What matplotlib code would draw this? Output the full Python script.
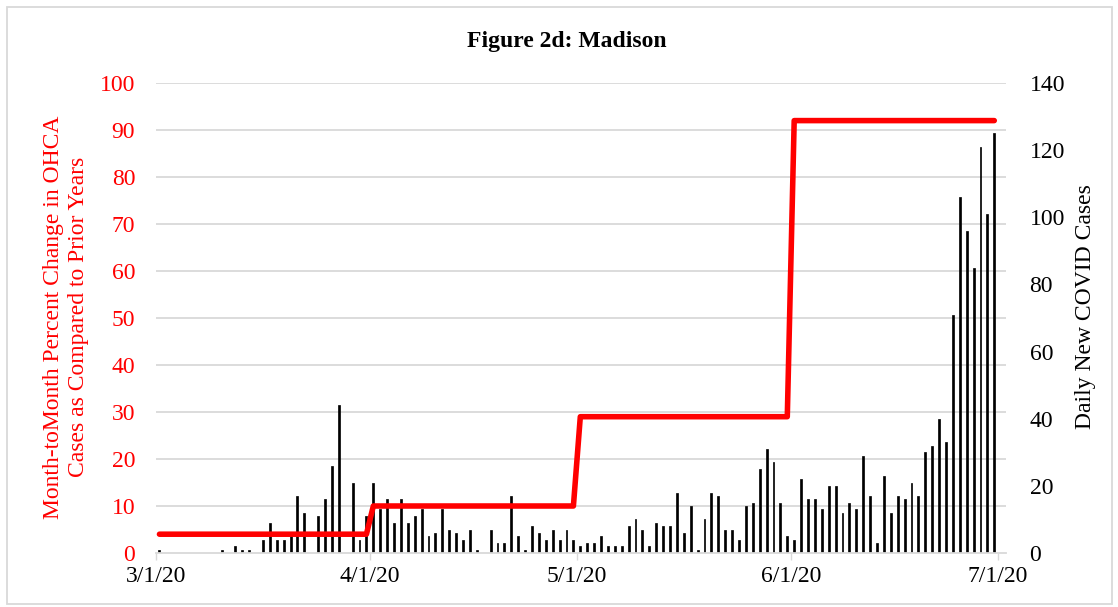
"""
Figure 2d: Madison - monthly OHCA percent change (red line, left axis)
against daily new COVID cases (black bars, right axis).
"""

import numpy as np
import pandas as pd
import matplotlib
matplotlib.use("Agg")
import matplotlib.pyplot as plt
import matplotlib.dates as mdates
from matplotlib.patches import Rectangle

plt.rcParams["font.family"] = ["Liberation Serif", "DejaVu Serif"]

# daily new COVID cases, 3/1/20 .. 6/30/20
cases_mar = [1, 0, 0, 0, 0, 0, 0, 0, 0, 1, 0, 2, 1, 1, 0, 4, 9, 4, 4, 5,
             17, 12, 0, 11, 16, 26, 44, 0, 21, 4, 11]
cases_apr = [21, 13, 16, 9, 16, 9, 11, 13, 5, 6, 13, 7, 6, 4, 7, 1, -1, 7, 3, 3,
             17, 5, 1, 8, 6, 4, 7, 4, 7, 4]
cases_may = [2, 3, 3, 5, 2, 2, 2, 8, 10, 7, 2, 9, 8, 8, 18, 6, 14, 1, 10, 18,
             17, 7, 7, 4, 14, 15, 25, 31, 27, 15, 5]
cases_jun = [4, 22, 16, 16, 13, 20, 20, 12, 15, 13, 29, 17, 3, 23, 12, 17, 16, 21, 17, 30,
             32, 40, 33, 71, 106, 96, 85, 121, 101, 125]

# month-to-month percent change in OHCA (one value per month)
ohca_pct = [4, 10, 29, 92]

x_ticks = ["2020-03-01", "2020-04-01", "2020-05-01", "2020-06-01", "2020-07-01"]
x_labels = ["3/1/20", "4/1/20", "5/1/20", "6/1/20", "7/1/20"]
left_ticks = [0, 10, 20, 30, 40, 50, 60, 70, 80, 90, 100]
right_ticks = [0, 20, 40, 60, 80, 100, 120, 140]

cases = cases_mar + cases_apr + cases_may + cases_jun
dates = pd.date_range("2020-03-01", periods=len(cases), freq="D")
month_len = [len(cases_mar), len(cases_apr), len(cases_may), len(cases_jun)]
ohca_daily = np.repeat(ohca_pct, month_len)

x = mdates.date2num(dates) + 0.5
tick_x = mdates.date2num(pd.to_datetime(x_ticks))

W, H = 1118, 607
FS = 17
fig = plt.figure(figsize=(W / 100, H / 100), dpi=100)
ax = fig.add_axes([156 / W, 1 - 553 / H, 850 / W, 470 / H])
ax2 = ax.twinx()

GRID = "#d9d9d9"

# bars (right scale)
ax.bar(x, cases, width=0.28, color="black", edgecolor="black", lw=0.5, zorder=2)
ax.set_ylim(right_ticks[0], right_ticks[-1])
ax.set_yticks(right_ticks)
ax.yaxis.tick_right()
ax.tick_params(axis="y", length=0, pad=17, labelsize=FS, colors="black")

# gridlines follow the left (red) scale
scale = right_ticks[-1] / left_ticks[-1]
for v in left_ticks[1:]:
    ax.axhline(v * scale, color=GRID, lw=1.3, zorder=0)

ax.set_xlim(tick_x[0], tick_x[-1] + 1.2)
ax.set_xticks(tick_x)
ax.set_xticklabels(x_labels)
ax.tick_params(axis="x", length=5, width=1, color=GRID, pad=4, labelsize=FS)

for s in ["top", "left", "right"]:
    ax.spines[s].set_visible(False)
ax.spines["bottom"].set_color(GRID)
ax.spines["bottom"].set_linewidth(1.3)

# red line (left scale)
ax2.plot(x, ohca_daily, color="#ff0000", lw=4,
         solid_capstyle="round", solid_joinstyle="round", zorder=3)
ax2.set_ylim(left_ticks[0], left_ticks[-1])
ax2.set_yticks(left_ticks)
ax2.yaxis.tick_left()
ax2.tick_params(axis="y", length=0, pad=15, labelsize=FS, colors="#ff0000")
for s in ax2.spines.values():
    s.set_visible(False)

fig.text(66 / W, 1 - 317 / H,
         "Month-toMonth Percent Change in OHCA\nCases as Compared to Prior Years",
         rotation=90, ha="center", va="center", multialignment="center",
         fontsize=FS, color="#ff0000", linespacing=1.2)
fig.text(1085 / W, 1 - 307 / H, "Daily New COVID Cases",
         rotation=90, ha="center", va="center", fontsize=FS, color="black")
fig.text(567 / W, 1 - 41 / H, "Figure 2d: Madison",
         ha="center", va="center", fontsize=FS, fontweight="bold")

# light chart border
fig.patches.append(Rectangle((7 / W, 3 / H), 1105 / W, 597 / H,
                             transform=fig.transFigure, fill=False,
                             edgecolor=GRID, lw=1.3))

fig.savefig("out.png", dpi=100)
